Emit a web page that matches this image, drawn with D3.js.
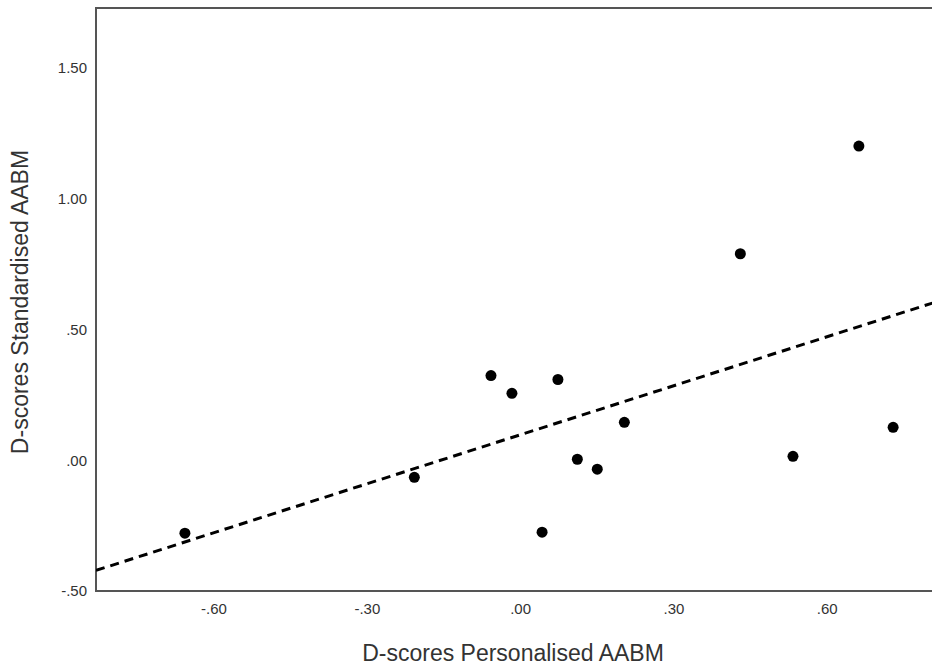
<!DOCTYPE html>
<html>
<head>
<meta charset="utf-8">
<script src="https://cdn.jsdelivr.net/npm/d3@7"></script>
<style>
  html, body { margin: 0; padding: 0; background: #fff; }
  svg { display: block; }
</style>
</head>
<body>
<svg id="chart" width="932" height="666"></svg>
<script>
// Data
const personalised = [-0.656, -0.207, -0.057, -0.016, 0.074, 0.043, 0.112, 0.151, 0.204, 0.431, 0.534, 0.663, 0.730];
const standardised = [-0.279, -0.065, 0.324, 0.256, 0.309, -0.275, 0.004, -0.034, 0.145, 0.790, 0.015, 1.202, 0.126];
const xTicks = [-0.6, -0.3, 0.0, 0.3, 0.6];
const xTickLabels = ["-.60", "-.30", ".00", ".30", ".60"];
const yTicks = [-0.5, 0.0, 0.5, 1.0, 1.5];
const yTickLabels = ["-.50", ".00", ".50", "1.00", "1.50"];
const xTitle = "D-scores Personalised AABM";
const yTitle = "D-scores Standardised AABM";

(function () {
const svg = d3.select("#chart");
const pl = 96, pr = 934, pt = 8, pb = 591;

const x = d3.scaleLinear().domain([-0.83, 0.81]).range([pl, pr]);
const y = d3.scaleLinear().domain([-0.5, 1.73]).range([pb, pt]);

// Frame
svg.append("rect")
  .attr("x", pl).attr("y", pt)
  .attr("width", pr - pl).attr("height", pb - pt)
  .attr("fill", "none").attr("stroke", "#555").attr("stroke-width", 2);

// Axes (labels only, no tick marks)
const xAxis = d3.axisBottom(x).tickValues(xTicks)
  .tickFormat((d, i) => xTickLabels[i]).tickSize(0).tickPadding(12);
const gx = svg.append("g").attr("transform", `translate(0,${pb})`).call(xAxis);
gx.select(".domain").remove();
gx.selectAll("text").attr("font-family", "Liberation Sans, Arial, sans-serif")
  .attr("font-size", 15).attr("fill", "#333");

const yAxis = d3.axisLeft(y).tickValues(yTicks)
  .tickFormat((d, i) => yTickLabels[i]).tickSize(0).tickPadding(9);
const gy = svg.append("g").attr("transform", `translate(${pl},0)`).call(yAxis);
gy.select(".domain").remove();
gy.selectAll("text").attr("font-family", "Liberation Sans, Arial, sans-serif")
  .attr("font-size", 15).attr("fill", "#333");

// Regression line (OLS fit of the data)
const n = personalised.length;
const mx = d3.mean(personalised), my = d3.mean(standardised);
let sxy = 0, sxx = 0;
for (let i = 0; i < n; i++) {
  sxy += (personalised[i] - mx) * (standardised[i] - my);
  sxx += (personalised[i] - mx) ** 2;
}
const slope = sxy / sxx, intercept = my - slope * mx;
const [x0, x1] = x.domain();
svg.append("defs").append("clipPath").attr("id", "clip")
  .append("rect").attr("x", pl).attr("y", pt)
  .attr("width", pr - pl).attr("height", pb - pt);
svg.append("line")
  .attr("clip-path", "url(#clip)")
  .attr("x1", x(x0)).attr("y1", y(intercept + slope * x0))
  .attr("x2", x(x1)).attr("y2", y(intercept + slope * x1))
  .attr("stroke", "#000").attr("stroke-width", 3)
  .attr("stroke-dasharray", "9,6");

// Points
svg.append("g").selectAll("circle")
  .data(personalised.map((v, i) => [v, standardised[i]]))
  .join("circle")
  .attr("cx", d => x(d[0])).attr("cy", d => y(d[1]))
  .attr("r", 5.5).attr("fill", "#000");

// Titles
svg.append("text")
  .attr("x", (pl + 932) / 2 - 1).attr("y", 661)
  .attr("text-anchor", "middle")
  .attr("font-family", "Liberation Sans, Arial, sans-serif")
  .attr("font-size", 23).attr("fill", "#333")
  .text(xTitle);

svg.append("text")
  .attr("transform", `translate(28,302) rotate(-90)`)
  .attr("text-anchor", "middle")
  .attr("font-family", "Liberation Sans, Arial, sans-serif")
  .attr("font-size", 23).attr("fill", "#333")
  .text(yTitle);
})();
</script>
</body>
</html>
